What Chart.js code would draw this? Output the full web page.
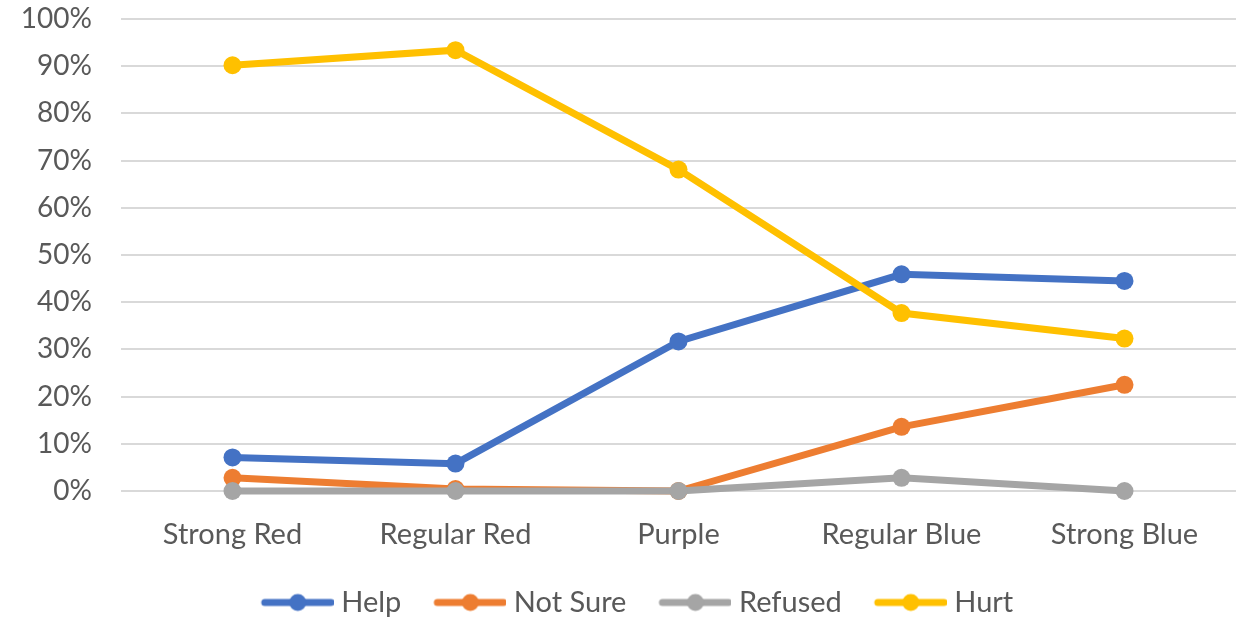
<!DOCTYPE html>
<html>
<head>
<meta charset="utf-8">
<script src="https://cdn.jsdelivr.net/npm/chart.js@4"></script>
<style>
  html, body { margin: 0; padding: 0; background: #fff; }
  #wrap { width: 1241px; height: 619px; }
</style>
</head>
<body>
<div id="wrap"><canvas id="myChart" width="1241" height="619"></canvas></div>
<script>
const categories = ["Strong Red", "Regular Red", "Purple", "Regular Blue", "Strong Blue"];
const seriesNames = ["Help", "Not Sure", "Refused", "Hurt"];
const help = [7.1, 5.8, 31.7, 45.9, 44.5];
const notSure = [2.8, 0.4, 0, 13.6, 22.5];
const refused = [0, 0, 0, 2.8, 0];
const hurt = [90.2, 93.4, 68.1, 37.7, 32.3];
const colors = ['#4472C4', '#ED7D31', '#A5A5A5', '#FFC000'];
const yTicks = [0, 10, 20, 30, 40, 50, 60, 70, 80, 90, 100];

const FONT = 'Lato';
const TEXT = '#595959';

// legend marker: line with a dot in the middle, shifted so the gap to the text is small
const MARK_W = 64;
function marker(color) {
    const c = document.createElement('canvas');
    c.width = MARK_W + 14; c.height = 20;
    const g = c.getContext('2d');
    g.strokeStyle = color;
    g.lineWidth = 7;
    g.lineCap = 'round';
    g.beginPath();
    g.moveTo(9, 10);
    g.lineTo(c.width - 3, 10);
    g.stroke();
    g.fillStyle = color;
    g.beginPath();
    g.arc((9 + c.width - 3) / 2, 10, 8.5, 0, Math.PI * 2);
    g.fill();
    return c;
}

// the legend in the original sits a bit right of the page centre
const shiftLegend = {
    id: 'shiftLegend',
    afterLayout(chart) {
        chart.legend.left += 40;
    }
};

const values = [help, notSure, refused, hurt];
const datasets = seriesNames.map((name, i) => ({
    label: name,
    data: values[i],
    borderColor: colors[i],
    backgroundColor: colors[i],
    pointBackgroundColor: colors[i],
    pointBorderColor: colors[i],
    borderWidth: 7,
    pointRadius: 9,
    pointBorderWidth: 0,
    tension: 0,
    clip: false,
    order: seriesNames.length - i
}));

const ctx = document.getElementById('myChart').getContext('2d');

const config = {
    type: 'line',
    data: { labels: categories, datasets },
    plugins: [shiftLegend],
    options: {
        responsive: false,
        animation: false,
        layout: { autoPadding: false, padding: { top: 19, right: 5, left: 0, bottom: -8 } },
        plugins: {
            tooltip: { enabled: false },
            legend: {
                position: 'bottom',
                labels: {
                    usePointStyle: true,
                    pointStyleWidth: MARK_W,
                    padding: 34,
                    color: TEXT,
                    font: { family: FONT, size: 29 },
                    generateLabels: (chart) => chart.data.datasets.map((ds, i) => ({
                        text: ds.label,
                        fillStyle: ds.borderColor,
                        strokeStyle: ds.borderColor,
                        lineWidth: 0,
                        pointStyle: marker(ds.borderColor),
                        fontColor: TEXT,
                        datasetIndex: i,
                        hidden: false
                    }))
                }
            }
        },
        scales: {
            x: {
                offset: true,
                grid: { display: false, drawTicks: false },
                border: { display: false },
                ticks: {
                    color: TEXT,
                    padding: 26,
                    font: { family: FONT, size: 29 }
                },
                afterFit: (scale) => {
                    scale.height = 63;
                    scale.paddingLeft = 0;
                    scale.paddingRight = 0;
                }
            },
            y: {
                min: 0,
                max: 100,
                afterBuildTicks: (scale) => { scale.ticks = yTicks.map(v => ({ value: v })); },
                grid: { color: '#D9D9D9', lineWidth: 2, drawTicks: false },
                border: { display: false },
                ticks: {
                    color: TEXT,
                    padding: 29,
                    font: { family: FONT, size: 28 },
                    callback: (v) => v + '%'
                },
                afterFit: (scale) => {
                    scale.width = 121;
                    scale.paddingTop = 0;
                    scale.paddingBottom = 0;
                }
            }
        }
    }
};

const myChart = new Chart(ctx, config);
</script>
</body>
</html>
